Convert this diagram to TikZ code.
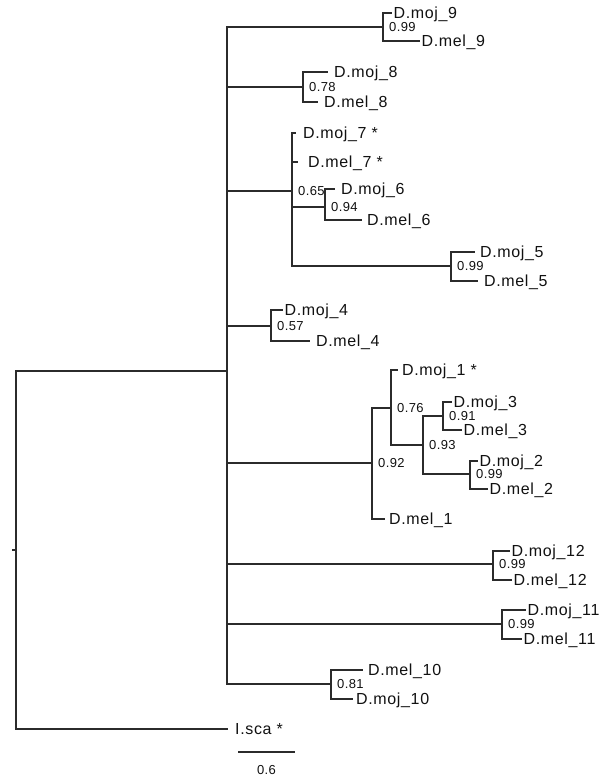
\documentclass[tikz,border=0pt]{standalone}
\usepackage{fontspec}
\usepackage{tikz}
\usetikzlibrary{positioning}
\newfontfamily\taxfont[LetterSpace=4]{Liberation Sans}
\newfontfamily\supfont[LetterSpace=3]{Liberation Sans}
\definecolor{treeline}{HTML}{2B2B2B}
\definecolor{treetext}{HTML}{111111}

\begin{document}
\begin{tikzpicture}[x=1pt,y=-1pt]
\tikzset{taxon/.style={anchor=west,inner ysep=0pt,inner xsep=1.5pt,text height=11.4pt,text depth=0pt,text=treetext,font=\taxfont\fontsize{16}{19}\selectfont},
num/.style={inner sep=1pt,text height=9.3pt,text depth=0pt,text=treetext,font=\supfont\fontsize{13}{15}\selectfont},
supp/.style={num,right=5pt},
branch/.style={draw=treeline,line width=1.2pt}}
\useasboundingbox (0,0) rectangle (600,777);
% backbone
\coordinate (root) at (16,550);
\coordinate (stub) at (12,550);
\coordinate (inner) at (227,371);
\node[taxon,inner xsep=7pt] (isca) at (228,729) {I.sca *};
% clades on the main line
\coordinate (c9) at (383,27);
\coordinate (c8) at (303,87);
\coordinate (c7) at (292,191);
\coordinate (c4) at (271,326);
\coordinate (c1) at (372,463);
\coordinate (c12) at (493,564);
\coordinate (c11) at (502,624);
\coordinate (c10) at (331,684);
% nested clades
\coordinate (c6) at (325,207);
\coordinate (c5) at (451,266);
\coordinate (cb) at (391,408);
\coordinate (cc) at (423,445);
\coordinate (c3) at (443,416);
\coordinate (c2) at (470,474);
% leaves
\node[taxon] (moj9) at (392,13) {D.moj\_9};
\node[taxon] (mel9) at (420,41) {D.mel\_9};
\node[taxon,inner xsep=6pt] (moj8) at (328,72) {D.moj\_8};
\node[taxon,inner xsep=6pt] (mel8) at (318,102) {D.mel\_8};
\node[taxon,inner xsep=7pt] (moj7) at (296,133) {D.moj\_7 *};
\node[taxon,inner xsep=10pt] (mel7) at (298,162) {D.mel\_7 *};
\node[taxon,inner xsep=6pt] (moj6) at (335,189) {D.moj\_6};
\node[taxon,inner xsep=5pt] (mel6) at (362,220) {D.mel\_6};
\node[taxon,inner xsep=5pt] (moj5) at (475,252) {D.moj\_5};
\node[taxon,inner xsep=6pt] (mel5) at (478,281) {D.mel\_5};
\node[taxon] (moj4) at (283,310) {D.moj\_4};
\node[taxon,inner xsep=6pt] (mel4) at (310,341) {D.mel\_4};
\node[taxon,inner xsep=4pt] (moj1) at (398,370) {D.moj\_1 *};
\node[taxon] (moj3) at (452,402) {D.moj\_3};
\node[taxon] (mel3) at (462,430) {D.mel\_3};
\node[taxon] (moj2) at (478,461) {D.moj\_2};
\node[taxon] (mel2) at (488,489) {D.mel\_2};
\node[taxon,inner xsep=4pt] (mel1) at (385,519) {D.mel\_1};
\node[taxon] (moj12) at (510,551) {D.moj\_12};
\node[taxon] (mel12) at (512,580) {D.mel\_12};
\node[taxon] (moj11) at (526,610) {D.moj\_11};
\node[taxon] (mel11) at (522,639) {D.mel\_11};
\node[taxon,inner xsep=5pt] (mel10) at (363,670) {D.mel\_10};
\node[taxon,inner xsep=3pt] (moj10) at (353,699) {D.moj\_10};
% branches
\draw[branch] (stub) -- (root);
\draw[branch] (inner) -| (root) |- (isca.west);
\draw[branch] (inner) |- (c9) (inner) |- (c8) (inner) |- (c7) (inner) |- (c4)
  (inner) |- (c1) (inner) |- (c12) (inner) |- (c11) (inner) |- (c10);
\draw[branch] (c9) |- (moj9.west) (c9) |- (mel9.west);
\draw[branch] (c8) |- (moj8.west) (c8) |- (mel8.west);
\draw[branch] (c7) |- (moj7.west) (c7) |- (mel7.west) (c7) |- (c6) (c7) |- (c5);
\draw[branch] (c6) |- (moj6.west) (c6) |- (mel6.west);
\draw[branch] (c5) |- (moj5.west) (c5) |- (mel5.west);
\draw[branch] (c4) |- (moj4.west) (c4) |- (mel4.west);
\draw[branch] (c1) |- (cb) (c1) |- (mel1.west);
\draw[branch] (cb) |- (moj1.west) (cb) |- (cc);
\draw[branch] (cc) |- (c3) (cc) |- (c2);
\draw[branch] (c3) |- (moj3.west) (c3) |- (mel3.west);
\draw[branch] (c2) |- (moj2.west) (c2) |- (mel2.west);
\draw[branch] (c12) |- (moj12.west) (c12) |- (mel12.west);
\draw[branch] (c11) |- (moj11.west) (c11) |- (mel11.west);
\draw[branch] (c10) |- (mel10.west) (c10) |- (moj10.west);
% support values
\node[supp] (s9) at (c9) {0.99};
\node[supp] (s8) at (c8) {0.78};
\node[supp] (s7) at (c7) {0.65};
\node[supp] (s6) at (c6) {0.94};
\node[supp] (s5) at (c5) {0.99};
\node[supp] (s4) at (c4) {0.57};
\node[supp] (s1) at (c1) {0.92};
\node[supp] (sb) at (cb) {0.76};
\node[supp] (sc) at (cc) {0.93};
\node[supp] (s3) at (c3) {0.91};
\node[supp] (s2) at (c2) {0.99};
\node[supp] (s12) at (c12) {0.99};
\node[supp] (s11) at (c11) {0.99};
\node[supp] (s10) at (c10) {0.81};
% scale bar
\coordinate (bar1) at (238,752);
\coordinate (bar2) at (295,752);
\draw[branch] (bar1) -- node[num,below=12pt] (barlab) {0.6} (bar2);
\end{tikzpicture}
\end{document}
